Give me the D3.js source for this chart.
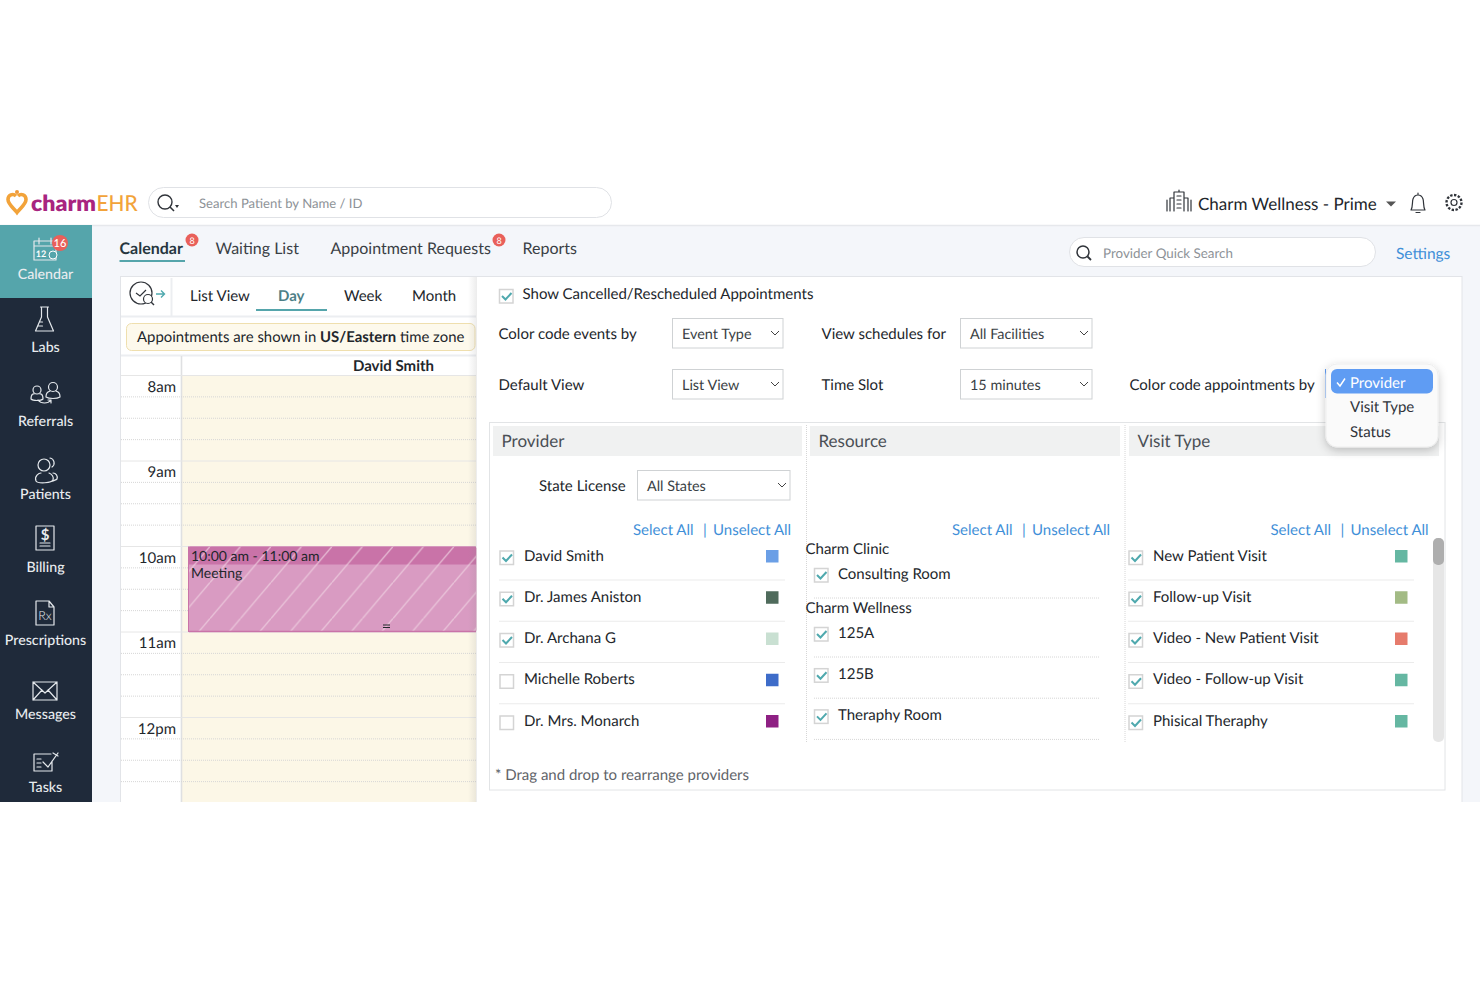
<!DOCTYPE html>
<html>
<head>
  <title>CharmEHR Calendar</title>
  <script src="https://d3js.org/d3.v7.min.js"></script>
  <style>
    html, body { margin: 0; padding: 0; background: #fff; }
    svg { display: block; }
    text { font-family: Lato, "Open Sans", sans-serif; font-size: 15px; fill: #22262b; dominant-baseline: central; text-rendering: geometricPrecision; }
    .icon { fill: none; stroke: #e4e8ec; stroke-width: 1.2; stroke-linejoin: round; stroke-linecap: round; }
    .dark { stroke: #30343a; }
    .dot { stroke: #d6d6d6; stroke-width: 1; stroke-dasharray: 1 1; }
  </style>
</head>
<body>
<script>
// Sidebar
var navItems = ["Calendar", "Labs", "Referrals", "Patients", "Billing", "Prescriptions", "Messages", "Tasks"];
// Tabs
var topTabs = ["Calendar", "Waiting List", "Appointment Requests", "Reports"];
var viewTabs = ["List View", "Day", "Week", "Month"];
// Calendar
var hourLabels = ["8am", "9am", "10am", "11am", "12pm"];
var hourValues = [8, 9, 10, 11, 12];
var eventStart = 10, eventEnd = 11;
// Settings lists
var providers = ["David Smith", "Dr. James Aniston", "Dr. Archana G", "Michelle Roberts", "Dr. Mrs. Monarch"];
var providerChecked = [true, true, true, false, false];
var providerColors = ["#6b9fe6", "#4f6b5c", "#c9e0d2", "#3e6cc9", "#8e2083"];
var visitTypes = ["New Patient Visit", "Follow-up Visit", "Video - New Patient Visit", "Video - Follow-up Visit", "Phisical Theraphy"];
var visitColors = ["#65b7a2", "#a3bb85", "#e67b6c", "#65b7a2", "#65b7a2"];
var resourceClinics = ["Charm Clinic", "Charm Wellness"];
var resourceRooms = [["Consulting Room"], ["125A", "125B", "Theraphy Room"]];
var menuOptions = ["Provider", "Visit Type", "Status"];

var svg = d3.select("body").append("svg").attr("width", 1480).attr("height", 987);
var defs = svg.append("defs");

// helpers
function txt(x, y, s, size, color, weight, anchor) {
  var t = svg.append("text").attr("x", x).attr("y", y - 1).text(s);
  if (size) t.style("font-size", size + "px");
  if (color) t.style("fill", color);
  if (weight) t.style("font-weight", weight);
  if (anchor) t.attr("text-anchor", anchor);
  return t;
}
function box(x, y, w, h, fill, stroke, r) {
  return svg.append("rect").attr("x", x).attr("y", y).attr("width", w).attr("height", h)
    .attr("rx", r || 0).attr("fill", fill || "none").attr("stroke", stroke || "none");
}
function dotted(x1, y1, x2, y2) {
  svg.append("line").attr("class", "dot").attr("x1", x1).attr("y1", y1).attr("x2", x2).attr("y2", y2);
}
function solid(x1, y1, x2, y2, c, w) {
  svg.append("line").attr("x1", x1).attr("y1", y1).attr("x2", x2).attr("y2", y2).attr("stroke", c).attr("stroke-width", w || 1);
}
function icon(x, y, d, cls) {
  svg.append("path").attr("class", "icon " + (cls || "")).attr("transform", "translate(" + x + "," + y + ")").attr("d", d);
}
function checkbox(x, cy, on) {
  box(x + 0.5, cy - 6.5, 13.5, 13.5, "#fff", "#d4d4d4").attr("stroke-width", 1.5);
  if (on) svg.append("path").attr("d", "M" + (x + 3) + "," + cy + "l3.500,3.500l6,-6.500").attr("fill", "none").attr("stroke", "#4fa9ae").attr("stroke-width", 2);
}
function chevron(x, y) {
  svg.append("path").attr("d", "M" + (x - 4) + "," + (y - 2) + "l4,4l4,-4").attr("fill", "none").attr("stroke", "#444").attr("stroke-width", 1);
}
function select(x, y, w, h, s) {
  box(x + 0.5, y + 0.5, w - 0.5, h - 0.5, "#fff", "#cfd2d4");
  txt(x + 10, y + h / 2 + 2.5, s, 14.4, "#3a3f45");
  chevron(x + w - 8, y + h / 2);
}

// app background
box(0, 225, 1480, 577, "#f4f6fa");
solid(0, 225.5, 1480, 225.5, "#e6e8ec", 1.5);

// logo
svg.append("path").attr("d", "M16,196c-3,-3 -8,-1 -8,3.500c0,4.500 5,8 9,13c4,-5 9,-8.500 9,-13c0,-4.500 -5,-6.500 -8,-3.500")
  .attr("fill", "none").attr("stroke", "#f2a33a").attr("stroke-width", 3.6);
svg.append("circle").attr("cx", 17).attr("cy", 192).attr("r", 2).attr("fill", "#ee9a3a");
txt(31, 203, "charm", 22, "#a8247f", 800).attr("textLength", 65).attr("lengthAdjust", "spacingAndGlyphs");
txt(96.5, 203, "EHR", 22, "#f2a33a", 500).attr("textLength", 41).attr("lengthAdjust", "spacingAndGlyphs");

// top search
box(148.5, 187.5, 463, 30, "#fff", "#e0e2e6", 15);
svg.append("circle").attr("cx", 165).attr("cy", 202).attr("r", 7).attr("fill", "none").attr("stroke", "#30343a").attr("stroke-width", 1.4);
solid(170, 207, 174, 211, "#30343a", 1.6);
svg.append("path").attr("d", "M175,205l4,0l-2,3z").attr("fill", "#30343a");
txt(199, 203.5, "Search Patient by Name / ID", 13.1, "#8d9297");

// top right
icon(1179, 202, "M-12,9V-2M-9,9V-4H-5V-10H5V-4H9V9M12,9V-2M-5,-4V9M5,-4V9M-2,-6H2M-2,-2H2M-2,2H2M-2,6H2M0,-10V-12", "dark");
txt(1198, 204.5, "Charm Wellness - Prime", 17, "#22262b");
svg.append("path").attr("d", "M1386,201.500h10l-5,5z").attr("fill", "#555");
icon(1418, 203, "M-7,7C-5,4 -6,-1 -5,-4C-4,-7 -2,-8 0,-8C2,-8 4,-7 5,-4C6,-1 5,4 7,7ZM-2,9.500H2M0,-8V-10", "dark");
svg.append("circle").attr("class", "icon dark").attr("cx", 1454).attr("cy", 202.5).attr("r", 3);
svg.append("circle").attr("cx", 1454).attr("cy", 202.5).attr("r", 7.5).attr("fill", "none").attr("stroke", "#30343a").attr("stroke-width", 2.4).attr("stroke-dasharray", "2.400 1.500");

// sidebar
var navY = d3.scaleLinear().domain([0, navItems.length - 1]).range([275.5, 788.5]);
box(0, 225, 92, 577, "#1f2a3a");
box(0, 225, 92, 73, "#55a5ab");
navItems.forEach(function(n, i) { txt(45.5, navY(i), n, 14.2, "#e8ecef", 500, "middle"); });
icon(45, 250, "M-11,-9H11V10H-11ZM-11,-4H11M-6,-12V-6M6,-12V-6");
txt(41, 254, "12", 9, "#fff", 700, "middle");
svg.append("circle").attr("cx", 53).attr("cy", 255).attr("r", 4).attr("fill", "#55a5ab").attr("stroke", "#fff");
svg.append("circle").attr("cx", 60).attr("cy", 243).attr("r", 8).attr("fill", "#e9605a");
txt(60, 244.5, "16", 11, "#fff", 500, "middle");
icon(44.5, 320, "M-4,-13H4M-3,-13V-3L-9,11H9L3,-3V-13M-7,6H-2M-5,2H-2");
// referrals: two people over an arrow
svg.append("circle").attr("class", "icon").attr("cx", 37).attr("cy", 390).attr("r", 4);
svg.append("circle").attr("class", "icon").attr("cx", 53).attr("cy", 387).attr("r", 4.5);
icon(37, 390, "M-6,9c0,-6 3,-5 3,-5M6,9c0,-6 -3,-5 -3,-5M-6,9c2,2 10,2 12,0");
icon(53, 387, "M-7,10c0,-6 3,-5 4,-6M7,10c0,-6 -3,-5 -4,-6M-7,10c3,2 11,2 14,0");
icon(45, 402, "M-7,-2c3,4 10,4 13,0M6,-2l0,3M6,-2l-3,0");
// patients: two overlapping people
svg.append("circle").attr("class", "icon").attr("cx", 44).attr("cy", 465).attr("r", 6);
icon(51, 464, "M-1,-6a5,5 0 0 1 2,9");
icon(45, 476, "M-9,5c-2,-5 3,-8 5,-8M4,-3c3,1 5,4 4,7c-1,3 -15,4 -17,1M8,-3c3,0 5,3 4,6c-1,1 -2,1 -4,2");
icon(45, 538, "M-9,-12H9V12H-9ZM-5,5H5M-5,8H5");
txt(45, 535.5, "$", 15, "#e8ecef", 700, "middle");
icon(45, 613, "M-9,-12H4L9,-6V12H-9ZM4,-12V-6H9");
txt(45, 616, "Rx", 12.5, "#e8ecef", 300, "middle");
icon(45, 691, "M-12,-9H12V9H-12ZM-12,-9L0,2L12,-9M-12,9L-3,-1M12,9L3,-1");
icon(45, 762, "M-11,-8H6M-11,-8V9H7V-1M-8,-3H-4M-8,1H-4M-8,5H-4M-2,0L3,5L13,-9M8,-9l5,3");

// tabs
var tabX = [119.5, 215.5, 330.5, 522.5];
topTabs.forEach(function(t, i) { txt(tabX[i], 249, t, 16, i == 0 ? "#27363f" : "#3a3f45", i == 0 ? 700 : 400); });
solid(119.5, 261, 185, 261, "#55a5ab", 2);
[192, 499].forEach(function(x) {
  svg.append("circle").attr("cx", x).attr("cy", 240).attr("r", 6.5).attr("fill", "#e9605a");
  txt(x, 241.5, "8", 9, "#fff", 400, "middle");
});

// provider search
box(1069.5, 237.5, 306, 29, "#fff", "#e0e2e6", 14.5);
svg.append("circle").attr("cx", 1083).attr("cy", 252).attr("r", 6).attr("fill", "none").attr("stroke", "#30343a").attr("stroke-width", 1.5);
solid(1087.5, 256.5, 1091, 260, "#30343a", 1.8);
txt(1103, 254, "Provider Quick Search", 13.4, "#8d9297");
txt(1396, 255, "Settings", 15.5, "#3f8fd8");

// main panel
box(120.5, 276.5, 1341.5, 530, "#fff", "#e2e4e8");
box(120, 802, 1360, 10, "#fff");

// view tabs
solid(171.5, 278, 171.5, 316, "#eceef1", 2);
solid(121, 316.5, 476, 316.5, "#eceef1", 2);
svg.append("circle").attr("cx", 141).attr("cy", 293).attr("r", 11).attr("fill", "none").attr("stroke", "#30343a").attr("stroke-width", 1.2);
svg.append("path").attr("d", "M136,293l4,3l6,-6").attr("fill", "none").attr("stroke", "#30343a").attr("stroke-width", 1.2);
svg.append("circle").attr("cx", 148).attr("cy", 299).attr("r", 4.5).attr("fill", "#fff").attr("stroke", "#30343a").attr("stroke-width", 1.2);
solid(151, 302, 154, 305, "#30343a", 1.4);
svg.append("path").attr("d", "M156,294h8M161,290.500l3.500,3.500l-3.500,3.500").attr("fill", "none").attr("stroke", "#4fa9ae").attr("stroke-width", 1.4);
var viewX = [190, 278, 344, 412];
viewTabs.forEach(function(t, i) { txt(viewX[i], 296.5, t, 15, i == 1 ? "#4d7f87" : "#22262b", i == 1 ? 700 : 400); });
solid(256, 310, 327, 310, "#55a5ab", 2);

// time zone banner
box(126.5, 323.5, 348.5, 27, "#fdf9ec", "#efdfae", 5);
var banner = txt(137, 338, "Appointments are shown in ", 14.9, "#22262b");
banner.append("tspan").style("font-weight", 700).text("US/Eastern");
banner.append("tspan").text(" time zone");

// day grid, hours on a linear scale
var yTime = d3.scaleLinear().domain([8, 13]).range([375.5, 803]);
box(182, yTime(8), 294, 802 - yTime(8), "#fcf7e7");
solid(121, 355.5, 476, 355.5, "#eceef1", 2);
solid(121, 375.5, 476, 375.5, "#e6e6e6", 1);
solid(181.5, 356, 181.5, 802, "#dfe0e2", 1.6);
txt(393.5, 367, "David Smith", 15, "#22262b", 700, "middle");
d3.range(8, 13, 0.25).forEach(function(h) {
  if (h % 1 === 0) solid(121, yTime(h), 476, yTime(h), "#e6e6e6", 1);
  else dotted(121, yTime(h), 476, yTime(h));
});
hourValues.forEach(function(h, i) { txt(176, yTime(h) + 12, hourLabels[i], 15, "#22262b", 400, "end"); });

// meeting block
var pat = defs.append("pattern").attr("id", "hatch").attr("width", 30.5).attr("height", 36).attr("patternUnits", "userSpaceOnUse")
  .attr("patternTransform", "translate(179.5," + yTime(eventStart) + ")");
pat.append("path").attr("d", "M-2,38.400L32.500,-2.400").attr("stroke", "#eecfe0").attr("stroke-width", 1).attr("fill", "none");
var evTop = yTime(eventStart), evH = yTime(eventEnd) - evTop;
box(188.5, evTop, 288, evH, "#d99bc2", null, 2);
svg.append("rect").attr("x", 189).attr("y", evTop).attr("width", 287).attr("height", 18).attr("fill", "#c973a8");
svg.append("rect").attr("x", 189).attr("y", evTop).attr("width", 287).attr("height", evH).attr("fill", "url(#hatch)");
solid(189, evTop + evH - 0.5, 476, evTop + evH - 0.5, "#c973a8", 1.5);
solid(188.5, evTop, 188.5, evTop + evH, "#c973a8", 1);
txt(191, evTop + 9.5, "10:00 am - 11:00 am", 14, "#22262b");
txt(191, evTop + 26.5, "Meeting", 14, "#22262b");
solid(383, evTop + evH - 7, 390, evTop + evH - 7, "#22262b", 1);
solid(383, evTop + evH - 4.5, 390, evTop + evH - 4.5, "#22262b", 1);

// shadow of the settings panel
var sh = defs.append("linearGradient").attr("id", "edge");
sh.append("stop").attr("offset", 0).attr("stop-color", "#888").attr("stop-opacity", 0);
sh.append("stop").attr("offset", 1).attr("stop-color", "#888").attr("stop-opacity", 0.16);
svg.append("rect").attr("x", 468).attr("y", 277).attr("width", 9).attr("height", 525).attr("fill", "url(#edge)");

// settings head
checkbox(499, 296, true);
txt(522.5, 294.5, "Show Cancelled/Rescheduled Appointments", 15, "#22262b");
txt(498.5, 334.5, "Color code events by", 15, "#22262b");
txt(498.5, 385.5, "Default View", 15, "#22262b");
select(672, 318, 111, 30, "Event Type");
select(672, 369, 111, 30, "List View");
txt(821.5, 334.5, "View schedules for", 15, "#22262b");
txt(821.5, 385.5, "Time Slot", 15, "#22262b");
select(960, 318, 132, 30, "All Facilities");
select(960, 369, 132, 30, "15 minutes");
txt(1129.5, 385.5, "Color code appointments by", 15, "#22262b");

// three lists
box(489.5, 422.5, 955.5, 367.5, "#fff", "#e2e4e6");
var heads = ["Provider", "Resource", "Visit Type"], headX = [493, 810, 1129], headW = [309, 310, 310];
heads.forEach(function(h, i) {
  box(headX[i], 426, headW[i], 30, "#f0f1f1");
  txt(headX[i] + 8.5, 441.5, h, 17, "#4a4f55");
});
dotted(806.5, 425, 806.5, 742);
dotted(1125, 425, 1125, 742);
txt(539, 487, "State License", 15, "#22262b");
select(637, 470, 153, 30, "All States");

function links(x) {
  txt(x, 531, "Select All", 15, "#3f8fd8");
  txt(x + 70, 531, "|", 15, "#3f8fd8");
  txt(x + 80, 531, "Unselect All", 15, "#3f8fd8");
}
links(633); links(952); links(1270.5);

var rowY = d3.scaleLinear().domain([0, 4]).range([556.5, 721.5]);
function list(x, names, checks, colors, w) {
  names.forEach(function(n, i) {
    checkbox(x, rowY(i) + 1, checks ? checks[i] : true);
    txt(x + 24.5, rowY(i), n, 15, "#22262b");
    box(x + 266.5, rowY(i) - 6.5, 12.5, 12.5, colors[i]);
    if (i < names.length - 1) dotted(x, rowY(i) + 23.5, x + w, rowY(i) + 23.5);
  });
}
list(499.5, providers, providerChecked, providerColors, 286);
list(1128.5, visitTypes, null, visitColors, 286);

// resources
var roomY = d3.scaleLinear().domain([0, 1]).range([634, 675.2]);
txt(805.5, 549.5, resourceClinics[0], 15, "#22262b");
checkbox(814, 575, true);
txt(838, 575, resourceRooms[0][0], 15, "#22262b");
dotted(814, 598, 1099, 598);
txt(805.5, 608.5, resourceClinics[1], 15, "#22262b");
resourceRooms[1].forEach(function(n, i) {
  checkbox(814, roomY(i), true);
  txt(838, roomY(i), n, 15, "#22262b");
  dotted(814, roomY(i) + 23, 1099, roomY(i) + 23);
});

// scrollbar
box(1433, 538, 11, 204, "#e6e6e6", null, 5);
box(1433, 538, 11, 27, "#aeaeae", null, 5);

txt(495, 775.5, "* Drag and drop to rearrange providers", 15, "#5f6469");

// select popup
var blur = defs.append("filter").attr("id", "pop").attr("x", "-30%").attr("y", "-30%").attr("width", "160%").attr("height", "170%");
blur.append("feDropShadow").attr("dx", 0).attr("dy", 3).attr("stdDeviation", 5).attr("flood-color", "#000").attr("flood-opacity", 0.22);
solid(1325.5, 369, 1325.5, 398, "#5f9cf3", 1);
box(1326, 364, 112, 83, "#fafafa", "#eee", 11).attr("filter", "url(#pop)");
box(1331, 369, 102, 24.5, "#5f9cf3", null, 6);
svg.append("path").attr("d", "M1337,382.500l3,3.500l5,-7.500").attr("fill", "none").attr("stroke", "#fff").attr("stroke-width", 1.5);
var menuY = d3.scaleLinear().domain([0, 2]).range([383.5, 432.5]);
menuOptions.forEach(function(m, i) { txt(1350, menuY(i), m, 15, i == 0 ? "#fff" : "#30343a"); });
</script>
</body>
</html>
